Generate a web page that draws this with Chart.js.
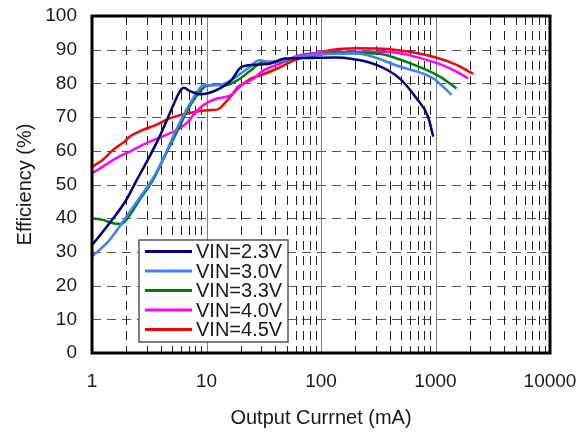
<!DOCTYPE html>
<html>
<head>
<meta charset="utf-8">
<script src="https://cdn.jsdelivr.net/npm/chart.js@4/dist/chart.umd.min.js"></script>
<style>
  html, body { margin: 0; padding: 0; background: #fff; }
</style>
</head>
<body>
<canvas id="chart" width="587" height="432"></canvas>
<script>
// efficiency curves (current in mA, efficiency in %)
const labels = ['VIN=2.3V', 'VIN=3.0V', 'VIN=3.3V', 'VIN=4.0V', 'VIN=4.5V'];
const colors = ['#000080', '#4080ff', '#008000', '#ff00ff', '#ff0000'];

const iout23 = [1.0, 1.42, 1.99, 2.43, 3.07, 3.89, 4.92, 5.82, 6.34, 7.1, 8.7, 10.3, 12.6, 16.5, 20.1, 26.3, 36.8, 48.2, 67.4, 132, 156, 305, 485, 682, 861, 955];
const eff23  = [32.0, 38.5, 45.4, 51.0, 57.3, 64.2, 72.1, 77.5, 78.7, 77.8, 76.8, 77.1, 78.2, 81.0, 84.8, 85.5, 86.0, 87.4, 87.5, 87.7, 87.6, 85.5, 81.5, 75.6, 70.1, 64.2];

const iout30 = [1.0, 1.42, 1.99, 2.78, 3.5, 4.3, 5.26, 6.66, 8.15, 9.3, 10.6, 12.6, 16.5, 23, 29.1, 34.4, 48.2, 72, 204, 485, 955, 1380];
const eff30  = [28.6, 33.5, 40.4, 47.4, 52.5, 58.5, 65.2, 72.1, 77.1, 79.4, 79.5, 79.5, 81.0, 84.5, 86.9, 86.4, 86.9, 88.2, 88.9, 85.0, 81.5, 76.6];

const iout33 = [1.0, 1.24, 1.52, 1.8, 1.99, 2.6, 3.4, 4.45, 5.62, 7.1, 8.7, 9.96, 12.6, 14.4, 18.8, 24.6, 30.1, 42.1, 58.9, 94.2, 127, 305, 596, 1090, 1527];
const eff33  = [40.0, 39.5, 38.5, 38.3, 39.5, 45.4, 51.3, 59.3, 66.2, 73.1, 77.5, 79.2, 79.5, 79.4, 81.0, 84.0, 86.1, 86.4, 87.4, 88.4, 89.1, 88.9, 86.0, 82.0, 78.5];

const iout40 = [1.0, 1.02, 1.24, 1.63, 2.27, 3.18, 4.45, 5.82, 6.88, 7.87, 9.0, 10.6, 12.6, 16.5, 18.8, 24.6, 32.2, 45.1, 58.9, 82.4, 127, 348, 955, 1426, 1928];
const eff40  = [53.3, 53.5, 55.3, 57.8, 60.2, 62.7, 64.7, 66.7, 68.6, 71.1, 73.1, 74.6, 75.6, 76.6, 79.0, 81.0, 84.0, 86.0, 87.9, 88.9, 89.4, 89.4, 86.4, 84.0, 81.5];

const iout45 = [1.0, 1.02, 1.24, 1.52, 1.74, 1.92, 2.13, 2.78, 3.64, 4.76, 6.22, 8.15, 10.6, 12.6, 14.4, 18.8, 24.6, 30.1, 42.1, 58.9, 82.4, 123, 204, 397, 955, 1527, 2133];
const eff45  = [55.0, 55.3, 57.3, 60.2, 61.7, 62.7, 64.2, 66.2, 67.7, 69.6, 70.8, 71.6, 72.1, 72.3, 74.1, 78.5, 81.5, 82.5, 84.5, 86.9, 88.4, 89.9, 90.4, 90.1, 87.9, 85.5, 82.8];

const xTicks = [1, 10, 100, 1000, 10000];
const currents = [iout23, iout30, iout33, iout40, iout45];
const effs = [eff23, eff30, eff33, eff40, eff45];

Chart.defaults.font.family = "'Liberation Sans', Arial, sans-serif";
Chart.defaults.color = '#1a1a1a';

// grid, frame and boxed legend like the original plot
const plotDecor = {
  id: 'plotDecor',
  beforeDatasetsDraw(chart) {
    const { ctx, chartArea: a, scales: { x, y } } = chart;
    ctx.save();
    ctx.lineWidth = 1;
    ctx.strokeStyle = '#555';
    ctx.setLineDash([9, 6]);
    for (let v = 10; v < 100; v += 10) {
      const py = Math.round(y.getPixelForValue(v)) + 0.5;
      ctx.beginPath(); ctx.moveTo(a.left, py); ctx.lineTo(a.right, py); ctx.stroke();
    }
    ctx.strokeStyle = '#222';
    for (let d = 1; d < 10000; d *= 10) {
      for (let m = 2; m <= 9; m++) {
        const px = Math.round(x.getPixelForValue(d * m)) + 0.5;
        ctx.beginPath(); ctx.moveTo(px, a.top); ctx.lineTo(px, a.bottom); ctx.stroke();
      }
    }
    ctx.setLineDash([]);
    ctx.strokeStyle = '#808080';
    for (let d = 10; d < 10000; d *= 10) {
      const px = Math.round(x.getPixelForValue(d)) + 0.5;
      ctx.beginPath(); ctx.moveTo(px, a.top); ctx.lineTo(px, a.bottom); ctx.stroke();
    }
    ctx.restore();
  },
  afterDatasetsDraw(chart) {
    const { ctx, chartArea: a } = chart;
    ctx.save();
    ctx.strokeStyle = '#000';
    ctx.lineWidth = 3;
    ctx.strokeRect(a.left, a.top, a.right - a.left, a.bottom - a.top);

    // legend box
    const lx = a.left + 47, ly = a.top + 224, lw = 149, lh = 102;
    ctx.fillStyle = '#fff';
    ctx.fillRect(lx, ly, lw, lh);
    ctx.lineWidth = 1.5;
    ctx.strokeStyle = '#555';
    ctx.strokeRect(lx, ly, lw, lh);
    ctx.font = "20px 'Liberation Sans', Arial, sans-serif";
    ctx.textBaseline = 'middle';
    ctx.fillStyle = '#1a1a1a';
    chart.data.datasets.forEach((ds, i) => {
      const ry = ly + 11.5 + i * 19.5;
      ctx.strokeStyle = ds.borderColor;
      ctx.lineWidth = 3;
      ctx.beginPath(); ctx.moveTo(lx + 6, ry); ctx.lineTo(lx + 53, ry); ctx.stroke();
      ctx.fillText(ds.label, lx + 57, ry + 1);
    });
    ctx.restore();
  }
};

new Chart(document.getElementById('chart'), {
  type: 'line',
  data: {
    datasets: labels.map((name, i) => ({
      label: name,
      data: currents[i].map((c, j) => ({ x: c, y: effs[i][j] })),
      borderColor: colors[i],
      backgroundColor: colors[i],
      borderWidth: 2.5,
      pointRadius: 0,
      cubicInterpolationMode: 'monotone',
      fill: false
    }))
  },
  options: {
    responsive: false,
    animation: false,
    layout: { padding: { top: 16, right: 37, bottom: 0, left: 0 } },
    plugins: { legend: { display: false }, tooltip: { enabled: false } },
    scales: {
      x: {
        type: 'logarithmic',
        min: 1,
        max: 10000,
        afterBuildTicks: (scale) => { scale.ticks = xTicks.map(v => ({ value: v })); },
        afterFit: (scale) => {
          scale.height = 79;
          scale.paddingLeft = 0;
          scale.paddingRight = 0;
        },
        grid: { display: false, drawTicks: false },
        border: { display: false },
        ticks: {
          autoSkip: false,
          maxRotation: 0,
          padding: 17,
          font: { size: 19 },
          callback: (v) => String(v)
        },
        title: { display: true, text: 'Output Currnet (mA)', font: { size: 20 }, padding: { top: 0, bottom: 2 } }
      },
      y: {
        min: 0,
        max: 100,
        afterFit: (scale) => {
          scale.width = 92;
          scale.paddingTop = 0;
          scale.paddingBottom = 0;
        },
        grid: { display: false, drawTicks: false },
        border: { display: false },
        ticks: { stepSize: 10, padding: 15, font: { size: 19 } },
        title: { display: true, text: 'Efficiency (%)', font: { size: 20 }, padding: { top: 13, bottom: 0 } }
      }
    }
  },
  plugins: [plotDecor]
});
</script>
</body>
</html>
